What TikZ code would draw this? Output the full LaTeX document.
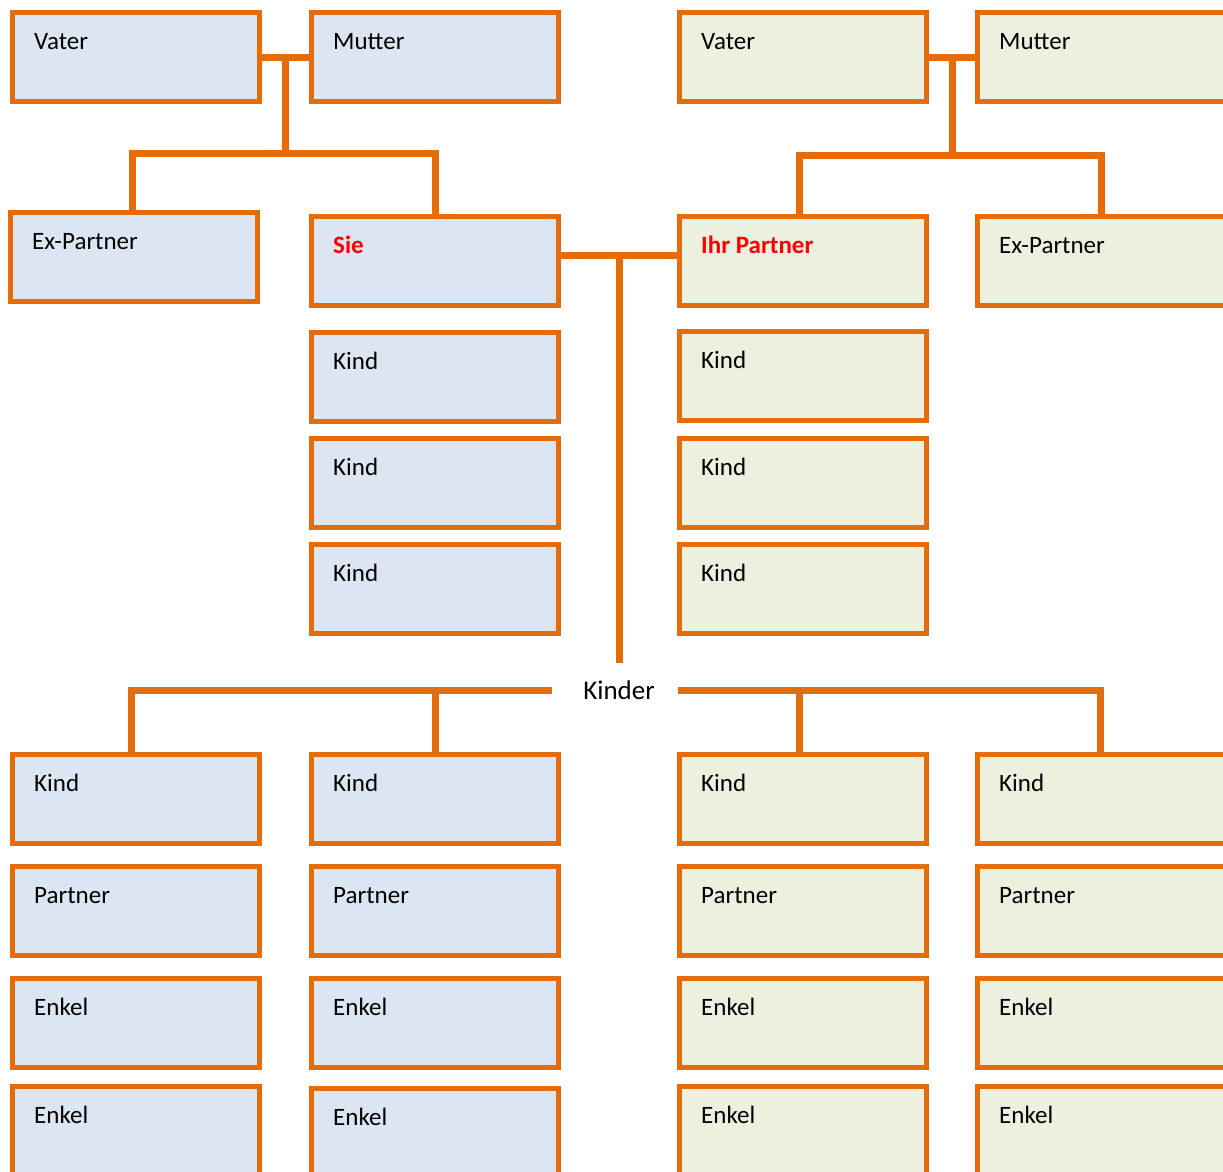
\documentclass[tikz,border=0pt]{standalone}
\usepackage{fontspec}
\setmainfont{Carlito}
\usetikzlibrary{calc}
\definecolor{fam}{HTML}{E46C0A}
\definecolor{fillL}{HTML}{DCE6F2}
\definecolor{fillR}{HTML}{EBF1DE}
\definecolor{hl}{HTML}{FF0000}
\newcommand\pbox[6][]{\node[box=#5,#1,label={[lbl]north west:#6}] (#2) at (#3,#4) {};}
\begin{document}
\begin{tikzpicture}[x=1pt,y=-1pt,
  box/.style={draw=fam, line width=5pt, fill=#1, minimum width=247pt, minimum height=89pt, inner sep=0pt, anchor=north west},
  wide/.style={minimum width=252pt},
  conn/.style={draw=fam, line width=7pt},
  lbl/.style={font=\fontsize{25}{29}\selectfont, anchor=base west, xshift=24pt, yshift=-39pt, inner sep=0pt},
]
\useasboundingbox (0,0) rectangle (1223,1171);
\clip (0,0) rectangle (1223,1171);

% Kinder label
\node[font=\fontsize{27}{32}\selectfont, inner xsep=27pt, inner ysep=0pt] (kinder) at (619,690) {Kinder};

% top left family
\pbox{lv}{10}{10}{fillL}{Vater}
\pbox{lm}{309}{10}{fillL}{Mutter}
\pbox{lex}{8}{210}{fillL}{Ex-Partner}
\pbox{sie}{309}{214}{fillL}{\textcolor{hl}{\bfseries Sie}}
\pbox{lk1}{309}{330}{fillL}{Kind}
\pbox{lk2}{309}{436}{fillL}{Kind}
\pbox{lk3}{309}{542}{fillL}{Kind}
% top right family
\pbox{rv}{677}{10}{fillR}{Vater}
\pbox[wide]{rm}{975}{10}{fillR}{Mutter}
\pbox{ip}{677}{214}{fillR}{\textcolor{hl}{\bfseries Ihr Partner}}
\pbox[wide]{rex}{975}{214}{fillR}{Ex-Partner}
\pbox{rk1}{677}{329}{fillR}{Kind}
\pbox{rk2}{677}{436}{fillR}{Kind}
\pbox{rk3}{677}{542}{fillR}{Kind}
% bottom rows
\pbox{ba1}{10}{752}{fillL}{Kind}
\pbox{ba2}{10}{864}{fillL}{Partner}
\pbox{ba3}{10}{976}{fillL}{Enkel}
\pbox{ba4}{10}{1084}{fillL}{Enkel}
\pbox{bb1}{309}{752}{fillL}{Kind}
\pbox{bb2}{309}{864}{fillL}{Partner}
\pbox{bb3}{309}{976}{fillL}{Enkel}
\pbox{bb4}{309}{1086}{fillL}{Enkel}
\pbox{bc1}{677}{752}{fillR}{Kind}
\pbox{bc2}{677}{864}{fillR}{Partner}
\pbox{bc3}{677}{976}{fillR}{Enkel}
\pbox{bc4}{677}{1084}{fillR}{Enkel}
\pbox[wide]{bd1}{975}{752}{fillR}{Kind}
\pbox[wide]{bd2}{975}{864}{fillR}{Partner}
\pbox[wide]{bd3}{975}{976}{fillR}{Enkel}
\pbox[wide]{bd4}{975}{1084}{fillR}{Enkel}

% connectors
\coordinate (jl) at ($(lv.east)!.5!(lm.west)$);
\coordinate (busL) at ($(jl)+(0,96)$);
\draw[conn] (lv.east) -- (lm.west);
\draw[conn] (jl) -- (busL);
\draw[conn] ([xshift=-2pt]lex.north) |- (busL) -| (sie.north);

\coordinate (jr) at ($(rv.east)!.5!(rm.west)$);
\coordinate (busR) at ($(jr)+(0,98)$);
\draw[conn] (rv.east) -- (rm.west);
\draw[conn] (jr) -- (busR);
\draw[conn] ([xshift=-4pt]ip.north) |- (busR) -| ([xshift=-2pt]rex.north);

\coordinate (jm) at ($([yshift=6pt]sie.east)!.5!([yshift=6pt]ip.west)$);
\draw[conn] ([yshift=6pt]sie.east) -- ([yshift=6pt]ip.west);
\draw[conn] (jm) -- ([yshift=17pt]kinder.north -| jm);

\draw[conn] ([xshift=-4pt]kinder.west) -| ([xshift=-5pt]ba1.north);
\draw[conn] (bb1.north |- kinder.west) -- (bb1.north);
\draw[conn] ([xshift=-4pt]kinder.east) -| ([xshift=-3pt]bd1.north);
\draw[conn] ([xshift=-4pt]bc1.north |- kinder.east) -- ([xshift=-4pt]bc1.north);
\end{tikzpicture}
\end{document}
